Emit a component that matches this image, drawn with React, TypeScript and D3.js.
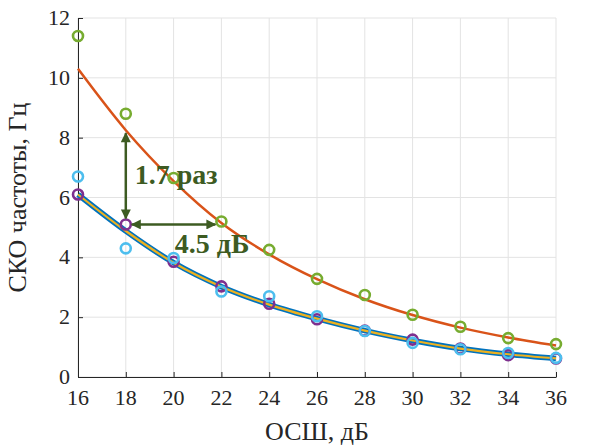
import React, { useEffect, useRef } from 'react';
import * as d3 from 'd3';

// ОСШ, дБ
const snr = [16, 18, 20, 22, 24, 26, 28, 30, 32, 34, 36];
// measured / modelled values, Hz
const greenPts = [11.4, 8.8, 6.65, 5.2, 4.25, 3.28, 2.74, 2.08, 1.68, 1.3, 1.1];
const orangeLine = [10.3, 8.25, 6.55, 5.15, 4.1, 3.27, 2.6, 2.07, 1.65, 1.32, 1.05];
const blueLine = [6.1, 4.88, 3.82, 3.02, 2.42, 1.95, 1.55, 1.22, 0.95, 0.76, 0.62];
const purplePts = [6.1, 5.1, 3.85, 3.03, 2.45, 1.93, 1.55, 1.25, 0.95, 0.73, 0.62];
const cyanPts = [6.7, 4.3, 3.98, 2.86, 2.7, 2.03, 1.54, 1.14, 0.93, 0.8, 0.64];
const yTicks = [0, 2, 4, 6, 8, 10, 12];

const W = 596;
const H = 448;
const margin = { top: 18, right: 40, bottom: 71, left: 78 };
const font = '"Liberation Serif", "DejaVu Serif", serif';

const App = () => {
  const ref = useRef<SVGGElement>(null);

  useEffect(() => {
    const g = d3.select(ref.current);
    g.selectAll('*').remove();
    const iw = W - margin.left - margin.right;
    const ih = H - margin.top - margin.bottom;

    const x = d3.scaleLinear().domain([16, 36]).range([0, iw]);
    const y = d3.scaleLinear().domain([0, 12]).range([ih, 0]);

    // grid
    g.append('g')
      .selectAll('line')
      .data(snr)
      .enter()
      .append('line')
      .attr('x1', d => x(d)).attr('x2', d => x(d))
      .attr('y1', 0).attr('y2', ih)
      .attr('stroke', '#e3e3e3').attr('stroke-width', 1);
    g.append('g')
      .selectAll('line')
      .data(yTicks)
      .enter()
      .append('line')
      .attr('x1', 0).attr('x2', iw)
      .attr('y1', d => y(d)).attr('y2', d => y(d))
      .attr('stroke', '#e3e3e3').attr('stroke-width', 1);

    // axes (tick marks only, labels below)
    const xAxis = g.append('g')
      .attr('transform', 'translate(0,' + ih + ')')
      .call(d3.axisBottom(x).tickValues(snr).tickSizeInner(-5).tickSizeOuter(0).tickFormat(() => ''));
    const yAxis = g.append('g')
      .call(d3.axisLeft(y).tickValues(yTicks).tickSizeInner(-5).tickSizeOuter(0).tickFormat(() => ''));
    [xAxis, yAxis].forEach(a => {
      a.select('.domain').attr('stroke', '#262626').attr('stroke-width', 1);
      a.selectAll('.tick line').attr('stroke', '#262626');
    });

    g.append('g')
      .selectAll('text')
      .data(snr)
      .enter()
      .append('text')
      .attr('x', d => x(d))
      .attr('y', ih + 28)
      .attr('text-anchor', 'middle')
      .attr('fill', '#262626')
      .style('font-family', font).style('font-size', '22px')
      .text(d => String(d));
    g.append('g')
      .selectAll('text')
      .data(yTicks)
      .enter()
      .append('text')
      .attr('x', -8)
      .attr('y', d => y(d) + 7)
      .attr('text-anchor', 'end')
      .attr('fill', '#262626')
      .style('font-family', font).style('font-size', '22px')
      .text(d => String(d));

    // lines
    const line = d3.line<number>()
      .x((d, i) => x(snr[i]))
      .y(d => y(d))
      .curve(d3.curveMonotoneX);

    g.append('path').datum(orangeLine)
      .attr('d', line).attr('fill', 'none')
      .attr('stroke', '#D95319').attr('stroke-width', 2.5);
    g.append('path').datum(blueLine)
      .attr('d', line).attr('fill', 'none')
      .attr('stroke', '#0072BD').attr('stroke-width', 5.5);
    g.append('path').datum(blueLine)
      .attr('d', line).attr('fill', 'none')
      .attr('stroke', '#EDB120').attr('stroke-width', 2.2);

    // markers
    const dots = (vals: number[], color: string) => {
      g.append('g')
        .selectAll('circle')
        .data(vals)
        .enter()
        .append('circle')
        .attr('cx', (d, i) => x(snr[i]))
        .attr('cy', d => y(d))
        .attr('r', 5)
        .attr('fill', 'none')
        .attr('stroke', color)
        .attr('stroke-width', 2.6);
    };
    dots(purplePts, '#7E2F8E');
    dots(cyanPts, '#4DBEEE');
    dots(greenPts, '#77AC30');

    // annotation arrows
    const ac = '#3d5b22';
    const defs = g.append('defs');
    defs.append('marker')
      .attr('id', 'ah')
      .attr('viewBox', '0 0 10 10')
      .attr('refX', 9).attr('refY', 5)
      .attr('markerWidth', 4.5).attr('markerHeight', 4)
      .attr('orient', 'auto-start-reverse')
      .append('path')
      .attr('d', 'M0,0 L10,5 L0,10 z')
      .attr('fill', ac);

    g.append('line')
      .attr('x1', x(18)).attr('x2', x(18))
      .attr('y1', y(purplePts[1]) - 6).attr('y2', y(orangeLine[1]) + 3)
      .attr('stroke', ac).attr('stroke-width', 2.5)
      .attr('marker-start', 'url(#ah)').attr('marker-end', 'url(#ah)');
    g.append('line')
      .attr('x1', x(18) + 6).attr('x2', x(22) - 6)
      .attr('y1', y(purplePts[1])).attr('y2', y(purplePts[1]))
      .attr('stroke', ac).attr('stroke-width', 2.5)
      .attr('marker-start', 'url(#ah)').attr('marker-end', 'url(#ah)');

    g.append('text')
      .attr('x', x(18) + 9).attr('y', y(6.45))
      .attr('fill', ac)
      .style('font-family', font).style('font-size', '28px').style('font-weight', 'bold')
      .text('1.7 раз');
    g.append('text')
      .attr('x', x(20.05)).attr('y', y(4.15))
      .attr('fill', ac)
      .style('font-family', font).style('font-size', '28px').style('font-weight', 'bold')
      .text('4.5 дБ');

    // axis labels
    g.append('text')
      .attr('x', iw / 2).attr('y', ih + 63)
      .attr('text-anchor', 'middle')
      .attr('fill', '#262626')
      .style('font-family', font).style('font-size', '26px')
      .text('ОСШ, дБ');
    g.append('text')
      .attr('transform', 'translate(' + (-52) + ',' + ih / 2 + ') rotate(-90)')
      .attr('text-anchor', 'middle')
      .attr('fill', '#262626')
      .style('font-family', font).style('font-size', '26px')
      .text('СКО частоты, Гц');
  });

  return (
    <div style={{ position: 'fixed', left: 0, top: 0 }}>
      <svg width={W} height={H} style={{ display: 'block', background: '#fff' }}>
        <g ref={ref} transform={'translate(' + margin.left + ',' + margin.top + ')'} />
      </svg>
    </div>
  );
};

export default App;
